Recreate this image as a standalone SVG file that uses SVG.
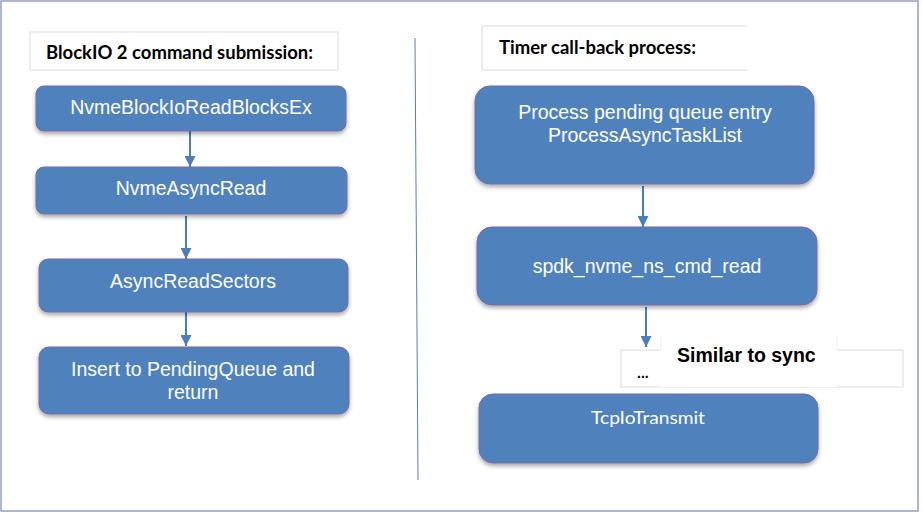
<svg xmlns="http://www.w3.org/2000/svg" width="922" height="514" viewBox="0 0 922 514">
<style>
.node{fill:#4F81BD;stroke:#7D68A6;stroke-width:1;filter:url(#sh)}
.nt{font-family:"Liberation Sans",Arial,sans-serif;font-size:19.5px;fill:#fff;text-anchor:middle}
.hdr{fill:#fff;stroke:#dcdcdc;stroke-width:1}
.ht{font-family:Lato,"Liberation Sans",sans-serif;font-weight:bold;font-size:18px;fill:#000}
.conn{stroke:#4A7EBB;stroke-width:2;fill:none;marker-end:url(#ah)}
</style>
<defs>
<filter id="sh" x="-10%" y="-20%" width="120%" height="150%">
<feDropShadow dx="0" dy="2.5" stdDeviation="2" flood-color="#000" flood-opacity="0.35"/>
</filter>
<marker id="ah" viewBox="0 0 10 10" refX="10" refY="5" markerWidth="5.5" markerHeight="5.5" orient="auto" markerUnits="strokeWidth">
<path d="M0,0 L10,5 L0,10 Z" fill="#4A7EBB"/>
</marker>
</defs>
<rect x="0" y="0" width="922" height="514" fill="#fff"/>
<rect x="1" y="1" width="917" height="510" fill="none" stroke="#8FA0BC" stroke-width="1.5"/>
<line x1="415" y1="38" x2="418" y2="480" stroke="#4F81BD" stroke-width="1"/>

<g id="hdr-left">
<rect class="hdr" x="30" y="32" width="308" height="38"/>
<text class="ht" x="46" y="59" textLength="267" lengthAdjust="spacingAndGlyphs">BlockIO 2 command submission:</text>
</g>
<g id="hdr-right">
<rect x="482" y="26" width="265" height="44" fill="#fff"/>
<path d="M747,26 H482 V70 H747" fill="none" stroke="#dcdcdc" stroke-width="1"/>
<text class="ht" x="499" y="54" textLength="197" lengthAdjust="spacingAndGlyphs">Timer call-back process:</text>
</g>

<g id="connectors">
<line class="conn" x1="190" y1="131" x2="190" y2="167"/>
<line class="conn" x1="186" y1="216" x2="186" y2="259"/>
<line class="conn" x1="186" y1="312" x2="186" y2="346"/>
<line class="conn" x1="643" y1="186" x2="643" y2="227"/>
<line class="conn" x1="646" y1="307" x2="646" y2="347"/>
</g>

<g id="n1">
<rect class="node" x="36" y="86" width="310" height="45" rx="8"/>
<text class="nt" x="191" y="114">NvmeBlockIoReadBlocksEx</text>
</g>
<g id="n2">
<rect class="node" x="36" y="167" width="311" height="47" rx="8"/>
<text class="nt" x="191" y="195">NvmeAsyncRead</text>
</g>
<g id="n3">
<rect class="node" x="39" y="259" width="309" height="53" rx="9"/>
<text class="nt" x="193" y="288">AsyncReadSectors</text>
</g>
<g id="n4">
<rect class="node" x="39" y="347" width="310" height="67" rx="10"/>
<text class="nt" x="193" y="376">Insert to PendingQueue and</text>
<text class="nt" x="193" y="399">return</text>
</g>
<g id="r1">
<rect class="node" x="475" y="86" width="339" height="98" rx="15"/>
<text class="nt" x="645" y="119">Process pending queue entry</text>
<text class="nt" x="645" y="142">ProcessAsyncTaskList</text>
</g>
<g id="r2">
<rect class="node" x="477" y="227" width="340" height="78" rx="15"/>
<text class="nt" x="647" y="273">spdk_nvme_ns_cmd_read</text>
</g>
<g id="dots">
<rect x="621" y="350" width="282" height="37" fill="#fff" stroke="#dcdcdc" stroke-width="1"/>
<text x="637" y="378" font-family="'Liberation Sans',Arial,sans-serif" font-weight="bold" font-size="14px" fill="#000">...</text>
</g>
<g id="similar">
<rect x="661" y="336" width="176" height="51" fill="#fff"/>
<path d="M661,350 V336 M837,336 V350" stroke="#eeeeee" stroke-width="1"/>
<text x="677" y="362" font-family="'Liberation Sans',Arial,sans-serif" font-weight="bold" font-size="19.5px" fill="#000">Similar to sync</text>
</g>
<g id="r3">
<rect class="node" x="479" y="394" width="339" height="69" rx="14"/>
<text x="648" y="424" font-family="Lato,'Liberation Sans',sans-serif" font-size="18px" fill="#fff" text-anchor="middle" textLength="114" lengthAdjust="spacingAndGlyphs">TcpIoTransmit</text>
</g>
</svg>
